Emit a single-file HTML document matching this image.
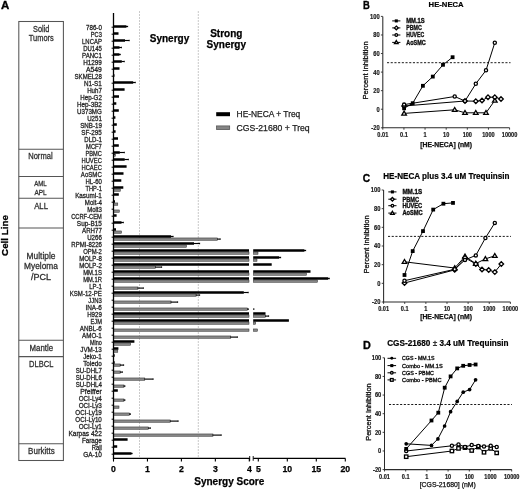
<!DOCTYPE html>
<html><head><meta charset="utf-8"><title>Synergy figure</title>
<style>
html,body{margin:0;padding:0;background:#fff;}
body{width:520px;height:489px;overflow:hidden;}
svg{display:block;font-family:'Liberation Sans', Arial, sans-serif;}
</style></head><body>
<svg width="520" height="489" viewBox="0 0 520 489">
<rect x="0" y="0" width="520" height="489" fill="#fff"/>
<text x="1.05" y="9.10" font-size="11.2" font-weight="bold" fill="#000" stroke="#000" stroke-width="0.35" textLength="8.30" lengthAdjust="spacingAndGlyphs">A</text>
<rect x="18.8" y="21.5" width="44.60" height="439.00" fill="none" stroke="#555" stroke-width="1.05"/>
<line x1="18.8" y1="149.3" x2="63.4" y2="149.3" stroke="#555" stroke-width="1.05"/>
<line x1="18.8" y1="176.4" x2="63.4" y2="176.4" stroke="#555" stroke-width="1.05"/>
<line x1="18.8" y1="198.3" x2="63.4" y2="198.3" stroke="#555" stroke-width="1.05"/>
<line x1="18.8" y1="227.9" x2="63.4" y2="227.9" stroke="#555" stroke-width="1.05"/>
<line x1="18.8" y1="340.3" x2="63.4" y2="340.3" stroke="#555" stroke-width="1.05"/>
<line x1="18.8" y1="356.6" x2="63.4" y2="356.6" stroke="#555" stroke-width="1.05"/>
<line x1="18.8" y1="443.8" x2="63.4" y2="443.8" stroke="#555" stroke-width="1.05"/>
<text x="33.00" y="31.60" font-size="9.200000000000001" fill="#303030" stroke="#303030" stroke-width="0.3" textLength="16.40" lengthAdjust="spacingAndGlyphs">Solid</text>
<text x="28.80" y="41.00" font-size="9.200000000000001" fill="#303030" stroke="#303030" stroke-width="0.3" textLength="24.90" lengthAdjust="spacingAndGlyphs">Tumors</text>
<text x="28.20" y="159.10" font-size="9.0" fill="#303030" stroke="#303030" stroke-width="0.3" textLength="24.40" lengthAdjust="spacingAndGlyphs">Normal</text>
<text x="34.20" y="185.70" font-size="7.8" fill="#303030" stroke="#303030" stroke-width="0.3" textLength="12.50" lengthAdjust="spacingAndGlyphs">AML</text>
<text x="34.50" y="194.50" font-size="7.8" fill="#303030" stroke="#303030" stroke-width="0.3" textLength="12.20" lengthAdjust="spacingAndGlyphs">APL</text>
<text x="34.20" y="208.90" font-size="9.0" fill="#303030" stroke="#303030" stroke-width="0.3" textLength="13.80" lengthAdjust="spacingAndGlyphs">ALL</text>
<text x="26.60" y="258.90" font-size="8.8" fill="#303030" stroke="#303030" stroke-width="0.3" textLength="28.80" lengthAdjust="spacingAndGlyphs">Multiple</text>
<text x="24.10" y="269.40" font-size="8.8" fill="#303030" stroke="#303030" stroke-width="0.3" textLength="33.79" lengthAdjust="spacingAndGlyphs">Myeloma</text>
<text x="31.00" y="279.50" font-size="8.8" fill="#303030" stroke="#303030" stroke-width="0.3" textLength="20.00" lengthAdjust="spacingAndGlyphs">/PCL</text>
<text x="29.60" y="350.70" font-size="8.6" fill="#303030" stroke="#303030" stroke-width="0.3" textLength="23.40" lengthAdjust="spacingAndGlyphs">Mantle</text>
<text x="29.10" y="366.70" font-size="9.100000000000001" fill="#303030" stroke="#303030" stroke-width="0.3" textLength="24.30" lengthAdjust="spacingAndGlyphs">DLBCL</text>
<text x="28.10" y="453.60" font-size="9.100000000000001" fill="#303030" stroke="#303030" stroke-width="0.3" textLength="26.70" lengthAdjust="spacingAndGlyphs">Burkitts</text>
<text x="86.05" y="29.75" font-size="6.9" fill="#222" stroke="#222" stroke-width="0.28" textLength="15.80" lengthAdjust="spacingAndGlyphs">786-0</text>
<text x="90.85" y="36.76" font-size="6.9" fill="#222" stroke="#222" stroke-width="0.28" textLength="11.00" lengthAdjust="spacingAndGlyphs">PC3</text>
<text x="82.05" y="43.76" font-size="6.9" fill="#222" stroke="#222" stroke-width="0.28" textLength="19.80" lengthAdjust="spacingAndGlyphs">LNCAP</text>
<text x="83.15" y="50.77" font-size="6.9" fill="#222" stroke="#222" stroke-width="0.28" textLength="18.70" lengthAdjust="spacingAndGlyphs">DU145</text>
<text x="82.05" y="57.78" font-size="6.9" fill="#222" stroke="#222" stroke-width="0.28" textLength="19.80" lengthAdjust="spacingAndGlyphs">PANC1</text>
<text x="83.15" y="64.78" font-size="6.9" fill="#222" stroke="#222" stroke-width="0.28" textLength="18.70" lengthAdjust="spacingAndGlyphs">H1299</text>
<text x="86.05" y="71.79" font-size="6.9" fill="#222" stroke="#222" stroke-width="0.28" textLength="15.80" lengthAdjust="spacingAndGlyphs">A549</text>
<text x="74.55" y="78.80" font-size="6.9" fill="#222" stroke="#222" stroke-width="0.28" textLength="27.30" lengthAdjust="spacingAndGlyphs">SKMEL28</text>
<text x="83.95" y="85.80" font-size="6.9" fill="#222" stroke="#222" stroke-width="0.28" textLength="17.90" lengthAdjust="spacingAndGlyphs">N1-S1</text>
<text x="87.15" y="92.81" font-size="6.9" fill="#222" stroke="#222" stroke-width="0.28" textLength="14.70" lengthAdjust="spacingAndGlyphs">Huh7</text>
<text x="80.25" y="99.82" font-size="6.9" fill="#222" stroke="#222" stroke-width="0.28" textLength="21.60" lengthAdjust="spacingAndGlyphs">Hep-G2</text>
<text x="77.05" y="106.82" font-size="6.9" fill="#222" stroke="#222" stroke-width="0.28" textLength="24.80" lengthAdjust="spacingAndGlyphs">Hep-3B2</text>
<text x="77.05" y="113.83" font-size="6.9" fill="#222" stroke="#222" stroke-width="0.28" textLength="24.80" lengthAdjust="spacingAndGlyphs">U373MG</text>
<text x="87.15" y="120.84" font-size="6.9" fill="#222" stroke="#222" stroke-width="0.28" textLength="14.70" lengthAdjust="spacingAndGlyphs">U251</text>
<text x="80.25" y="127.84" font-size="6.9" fill="#222" stroke="#222" stroke-width="0.28" textLength="21.60" lengthAdjust="spacingAndGlyphs">SNB-19</text>
<text x="81.25" y="134.85" font-size="6.9" fill="#222" stroke="#222" stroke-width="0.28" textLength="20.60" lengthAdjust="spacingAndGlyphs">SF-295</text>
<text x="84.25" y="141.85" font-size="6.9" fill="#222" stroke="#222" stroke-width="0.28" textLength="17.60" lengthAdjust="spacingAndGlyphs">DLD-1</text>
<text x="86.05" y="148.86" font-size="6.9" fill="#222" stroke="#222" stroke-width="0.28" textLength="15.80" lengthAdjust="spacingAndGlyphs">MCF7</text>
<text x="85.45" y="155.87" font-size="6.9" fill="#222" stroke="#222" stroke-width="0.28" textLength="16.40" lengthAdjust="spacingAndGlyphs">PBMC</text>
<text x="81.45" y="162.87" font-size="6.9" fill="#222" stroke="#222" stroke-width="0.28" textLength="20.40" lengthAdjust="spacingAndGlyphs">HUVEC</text>
<text x="81.45" y="169.88" font-size="6.9" fill="#222" stroke="#222" stroke-width="0.28" textLength="20.40" lengthAdjust="spacingAndGlyphs">HCAEC</text>
<text x="80.85" y="176.89" font-size="6.9" fill="#222" stroke="#222" stroke-width="0.28" textLength="21.00" lengthAdjust="spacingAndGlyphs">AoSMC</text>
<text x="85.45" y="183.89" font-size="6.9" fill="#222" stroke="#222" stroke-width="0.28" textLength="16.40" lengthAdjust="spacingAndGlyphs">HL-60</text>
<text x="85.45" y="190.90" font-size="6.9" fill="#222" stroke="#222" stroke-width="0.28" textLength="16.40" lengthAdjust="spacingAndGlyphs">THP-1</text>
<text x="75.15" y="197.91" font-size="6.9" fill="#222" stroke="#222" stroke-width="0.28" textLength="26.70" lengthAdjust="spacingAndGlyphs">Kasumi-1</text>
<text x="84.85" y="204.91" font-size="6.9" fill="#222" stroke="#222" stroke-width="0.28" textLength="17.00" lengthAdjust="spacingAndGlyphs">Molt-4</text>
<text x="87.15" y="211.92" font-size="6.9" fill="#222" stroke="#222" stroke-width="0.28" textLength="14.70" lengthAdjust="spacingAndGlyphs">Molt3</text>
<text x="71.15" y="218.93" font-size="6.9" fill="#222" stroke="#222" stroke-width="0.28" textLength="30.70" lengthAdjust="spacingAndGlyphs">CCRF-CEM</text>
<text x="76.85" y="225.93" font-size="6.9" fill="#222" stroke="#222" stroke-width="0.28" textLength="25.00" lengthAdjust="spacingAndGlyphs">Sup-B15</text>
<text x="82.05" y="232.94" font-size="6.9" fill="#222" stroke="#222" stroke-width="0.28" textLength="19.80" lengthAdjust="spacingAndGlyphs">ARH77</text>
<text x="87.15" y="239.95" font-size="6.9" fill="#222" stroke="#222" stroke-width="0.28" textLength="14.70" lengthAdjust="spacingAndGlyphs">U266</text>
<text x="71.35" y="246.95" font-size="6.9" fill="#222" stroke="#222" stroke-width="0.28" textLength="30.50" lengthAdjust="spacingAndGlyphs">RPMI-8226</text>
<text x="83.15" y="253.96" font-size="6.9" fill="#222" stroke="#222" stroke-width="0.28" textLength="18.70" lengthAdjust="spacingAndGlyphs">OPM-2</text>
<text x="79.15" y="260.97" font-size="6.9" fill="#222" stroke="#222" stroke-width="0.28" textLength="22.70" lengthAdjust="spacingAndGlyphs">MOLP-8</text>
<text x="79.15" y="267.97" font-size="6.9" fill="#222" stroke="#222" stroke-width="0.28" textLength="22.70" lengthAdjust="spacingAndGlyphs">MOLP-2</text>
<text x="83.15" y="274.98" font-size="6.9" fill="#222" stroke="#222" stroke-width="0.28" textLength="18.70" lengthAdjust="spacingAndGlyphs">MM.1S</text>
<text x="83.15" y="281.99" font-size="6.9" fill="#222" stroke="#222" stroke-width="0.28" textLength="18.70" lengthAdjust="spacingAndGlyphs">MM.1R</text>
<text x="89.25" y="288.99" font-size="6.9" fill="#222" stroke="#222" stroke-width="0.28" textLength="12.60" lengthAdjust="spacingAndGlyphs">LP-1</text>
<text x="69.75" y="296.00" font-size="6.9" fill="#222" stroke="#222" stroke-width="0.28" textLength="32.10" lengthAdjust="spacingAndGlyphs">KSM-12-PE</text>
<text x="88.35" y="303.01" font-size="6.9" fill="#222" stroke="#222" stroke-width="0.28" textLength="13.50" lengthAdjust="spacingAndGlyphs">JJN3</text>
<text x="85.45" y="310.01" font-size="6.9" fill="#222" stroke="#222" stroke-width="0.28" textLength="16.40" lengthAdjust="spacingAndGlyphs">INA-6</text>
<text x="87.15" y="317.02" font-size="6.9" fill="#222" stroke="#222" stroke-width="0.28" textLength="14.70" lengthAdjust="spacingAndGlyphs">H929</text>
<text x="90.55" y="324.03" font-size="6.9" fill="#222" stroke="#222" stroke-width="0.28" textLength="11.30" lengthAdjust="spacingAndGlyphs">EJM</text>
<text x="79.75" y="331.03" font-size="6.9" fill="#222" stroke="#222" stroke-width="0.28" textLength="22.10" lengthAdjust="spacingAndGlyphs">ANBL-6</text>
<text x="82.05" y="338.04" font-size="6.9" fill="#222" stroke="#222" stroke-width="0.28" textLength="19.80" lengthAdjust="spacingAndGlyphs">AMO-1</text>
<text x="90.05" y="345.05" font-size="6.9" fill="#222" stroke="#222" stroke-width="0.28" textLength="11.80" lengthAdjust="spacingAndGlyphs">Mino</text>
<text x="80.25" y="352.05" font-size="6.9" fill="#222" stroke="#222" stroke-width="0.28" textLength="21.60" lengthAdjust="spacingAndGlyphs">JVM-13</text>
<text x="83.15" y="359.06" font-size="6.9" fill="#222" stroke="#222" stroke-width="0.28" textLength="18.70" lengthAdjust="spacingAndGlyphs">Jeko-1</text>
<text x="83.15" y="366.06" font-size="6.9" fill="#222" stroke="#222" stroke-width="0.28" textLength="18.70" lengthAdjust="spacingAndGlyphs">Toledo</text>
<text x="75.75" y="373.07" font-size="6.9" fill="#222" stroke="#222" stroke-width="0.28" textLength="26.10" lengthAdjust="spacingAndGlyphs">SU-DHL7</text>
<text x="75.75" y="380.08" font-size="6.9" fill="#222" stroke="#222" stroke-width="0.28" textLength="26.10" lengthAdjust="spacingAndGlyphs">SU-DHL6</text>
<text x="75.75" y="387.08" font-size="6.9" fill="#222" stroke="#222" stroke-width="0.28" textLength="26.10" lengthAdjust="spacingAndGlyphs">SU-DHL4</text>
<text x="80.25" y="394.09" font-size="6.9" fill="#222" stroke="#222" stroke-width="0.28" textLength="21.60" lengthAdjust="spacingAndGlyphs">Pfeiffer</text>
<text x="78.65" y="401.10" font-size="6.9" fill="#222" stroke="#222" stroke-width="0.28" textLength="23.20" lengthAdjust="spacingAndGlyphs">OCI-Ly4</text>
<text x="78.65" y="408.10" font-size="6.9" fill="#222" stroke="#222" stroke-width="0.28" textLength="23.20" lengthAdjust="spacingAndGlyphs">OCI-Ly3</text>
<text x="75.35" y="415.11" font-size="6.9" fill="#222" stroke="#222" stroke-width="0.28" textLength="26.50" lengthAdjust="spacingAndGlyphs">OCI-Ly19</text>
<text x="75.35" y="422.12" font-size="6.9" fill="#222" stroke="#222" stroke-width="0.28" textLength="26.50" lengthAdjust="spacingAndGlyphs">OCI-Ly10</text>
<text x="78.65" y="429.12" font-size="6.9" fill="#222" stroke="#222" stroke-width="0.28" textLength="23.20" lengthAdjust="spacingAndGlyphs">OCI-Ly1</text>
<text x="68.45" y="436.13" font-size="6.9" fill="#222" stroke="#222" stroke-width="0.28" textLength="33.40" lengthAdjust="spacingAndGlyphs">Karpas 422</text>
<text x="81.95" y="443.14" font-size="6.9" fill="#222" stroke="#222" stroke-width="0.28" textLength="19.90" lengthAdjust="spacingAndGlyphs">Farage</text>
<text x="91.75" y="450.14" font-size="6.9" fill="#222" stroke="#222" stroke-width="0.28" textLength="10.10" lengthAdjust="spacingAndGlyphs">Raji</text>
<text x="83.25" y="457.15" font-size="6.9" fill="#222" stroke="#222" stroke-width="0.28" textLength="18.60" lengthAdjust="spacingAndGlyphs">GA-10</text>
<line x1="139.5" y1="11.5" x2="139.5" y2="457" stroke="#8a8a8a" stroke-width="0.9" stroke-dasharray="1,2"/>
<line x1="198.3" y1="11.5" x2="198.3" y2="457" stroke="#8a8a8a" stroke-width="0.9" stroke-dasharray="1,2"/>
<rect x="113.50" y="25.25" width="13.00" height="2.50" fill="#000"/>
<line x1="126.00" y1="26.50" x2="128.00" y2="26.50" stroke="#000" stroke-width="1.15"/>
<line x1="127.70" y1="25.70" x2="127.70" y2="27.30" stroke="#000" stroke-width="0.6"/>
<rect x="113.50" y="32.25" width="5.00" height="2.50" fill="#000"/>
<rect x="113.50" y="39.25" width="11.50" height="2.50" fill="#000"/>
<line x1="124.50" y1="40.50" x2="129.50" y2="40.50" stroke="#000" stroke-width="1.15"/>
<line x1="129.20" y1="39.70" x2="129.20" y2="41.30" stroke="#000" stroke-width="0.6"/>
<rect x="113.50" y="46.25" width="6.00" height="2.50" fill="#000"/>
<line x1="119.00" y1="47.50" x2="121.80" y2="47.50" stroke="#000" stroke-width="1.15"/>
<line x1="121.50" y1="46.70" x2="121.50" y2="48.30" stroke="#000" stroke-width="0.6"/>
<rect x="113.50" y="53.25" width="6.00" height="2.50" fill="#000"/>
<line x1="119.00" y1="54.50" x2="120.60" y2="54.50" stroke="#000" stroke-width="1.15"/>
<line x1="120.30" y1="53.70" x2="120.30" y2="55.30" stroke="#000" stroke-width="0.6"/>
<rect x="113.50" y="60.25" width="8.30" height="2.50" fill="#000"/>
<line x1="121.30" y1="61.50" x2="124.60" y2="61.50" stroke="#000" stroke-width="1.15"/>
<line x1="124.30" y1="60.70" x2="124.30" y2="62.30" stroke="#000" stroke-width="0.6"/>
<rect x="113.50" y="67.25" width="6.00" height="2.50" fill="#000"/>
<rect x="113.50" y="74.25" width="1.00" height="2.50" fill="#000"/>
<rect x="113.50" y="81.25" width="19.70" height="2.50" fill="#000"/>
<line x1="132.70" y1="82.50" x2="135.60" y2="82.50" stroke="#000" stroke-width="1.15"/>
<line x1="135.30" y1="81.70" x2="135.30" y2="83.30" stroke="#000" stroke-width="0.6"/>
<rect x="113.50" y="88.25" width="11.10" height="2.50" fill="#000"/>
<rect x="113.50" y="95.25" width="5.50" height="2.50" fill="#000"/>
<rect x="113.50" y="102.25" width="2.80" height="2.50" fill="#000"/>
<rect x="113.50" y="109.25" width="5.30" height="2.50" fill="#000"/>
<rect x="113.50" y="116.25" width="1.90" height="2.50" fill="#000"/>
<rect x="113.50" y="123.25" width="3.30" height="2.50" fill="#000"/>
<rect x="113.50" y="130.25" width="2.10" height="2.50" fill="#000"/>
<rect x="113.50" y="137.25" width="4.50" height="2.50" fill="#000"/>
<rect x="113.50" y="144.25" width="5.30" height="2.50" fill="#000"/>
<rect x="113.75" y="153.95" width="1.75" height="2.30" fill="#878787" stroke="#2a2a2a" stroke-width="0.5"/>
<rect x="113.50" y="151.25" width="6.30" height="2.50" fill="#000"/>
<line x1="119.30" y1="152.50" x2="124.70" y2="152.50" stroke="#000" stroke-width="1.15"/>
<line x1="124.40" y1="151.70" x2="124.40" y2="153.30" stroke="#000" stroke-width="0.6"/>
<rect x="113.50" y="158.25" width="11.20" height="2.50" fill="#000"/>
<line x1="124.20" y1="159.50" x2="128.70" y2="159.50" stroke="#000" stroke-width="1.15"/>
<line x1="128.40" y1="158.70" x2="128.40" y2="160.30" stroke="#000" stroke-width="0.6"/>
<rect x="113.50" y="165.25" width="13.10" height="2.50" fill="#000"/>
<rect x="113.50" y="172.25" width="10.00" height="2.50" fill="#000"/>
<rect x="113.50" y="179.25" width="7.80" height="2.50" fill="#000"/>
<rect x="113.75" y="188.95" width="6.55" height="2.30" fill="#878787" stroke="#2a2a2a" stroke-width="0.5"/>
<rect x="113.50" y="186.25" width="9.80" height="2.50" fill="#000"/>
<rect x="113.50" y="193.25" width="5.30" height="2.50" fill="#000"/>
<rect x="113.75" y="202.95" width="4.05" height="2.30" fill="#878787" stroke="#2a2a2a" stroke-width="0.5"/>
<rect x="113.50" y="200.25" width="1.50" height="2.50" fill="#000"/>
<rect x="113.75" y="209.95" width="5.55" height="2.30" fill="#878787" stroke="#2a2a2a" stroke-width="0.5"/>
<rect x="113.50" y="214.25" width="3.10" height="2.50" fill="#000"/>
<rect x="113.50" y="221.25" width="8.00" height="2.50" fill="#000"/>
<line x1="121.00" y1="222.50" x2="123.70" y2="222.50" stroke="#000" stroke-width="1.15"/>
<line x1="123.40" y1="221.70" x2="123.40" y2="223.30" stroke="#000" stroke-width="0.6"/>
<rect x="113.75" y="230.95" width="7.75" height="2.30" fill="#878787" stroke="#2a2a2a" stroke-width="0.5"/>
<rect x="113.50" y="228.25" width="2.50" height="2.50" fill="#000"/>
<rect x="113.75" y="237.95" width="103.95" height="2.30" fill="#878787" stroke="#2a2a2a" stroke-width="0.5"/>
<line x1="217.20" y1="239.10" x2="220.50" y2="239.10" stroke="#000" stroke-width="1.15"/>
<line x1="220.20" y1="238.30" x2="220.20" y2="239.90" stroke="#000" stroke-width="0.6"/>
<rect x="113.50" y="235.25" width="57.60" height="2.50" fill="#000"/>
<line x1="170.60" y1="236.50" x2="173.40" y2="236.50" stroke="#000" stroke-width="1.15"/>
<line x1="173.10" y1="235.70" x2="173.10" y2="237.30" stroke="#000" stroke-width="0.6"/>
<rect x="113.75" y="244.95" width="72.75" height="2.30" fill="#878787" stroke="#2a2a2a" stroke-width="0.5"/>
<rect x="113.50" y="242.25" width="80.50" height="2.50" fill="#000"/>
<line x1="193.50" y1="243.50" x2="200.00" y2="243.50" stroke="#000" stroke-width="1.15"/>
<line x1="199.70" y1="242.70" x2="199.70" y2="244.30" stroke="#000" stroke-width="0.6"/>
<rect x="113.75" y="251.95" width="135.25" height="2.30" fill="#878787" stroke="#2a2a2a" stroke-width="0.5"/>
<rect x="253.45" y="251.95" width="4.55" height="2.30" fill="#878787" stroke="#2a2a2a" stroke-width="0.5"/>
<rect x="113.50" y="249.25" width="135.50" height="2.50" fill="#000"/>
<rect x="253.20" y="249.25" width="51.30" height="2.50" fill="#000"/>
<line x1="304.00" y1="250.50" x2="306.00" y2="250.50" stroke="#000" stroke-width="1.15"/>
<line x1="305.70" y1="249.70" x2="305.70" y2="251.30" stroke="#000" stroke-width="0.6"/>
<rect x="113.75" y="258.95" width="135.25" height="2.30" fill="#878787" stroke="#2a2a2a" stroke-width="0.5"/>
<rect x="253.45" y="258.95" width="3.55" height="2.30" fill="#878787" stroke="#2a2a2a" stroke-width="0.5"/>
<rect x="113.50" y="256.25" width="135.50" height="2.50" fill="#000"/>
<rect x="253.20" y="256.25" width="26.00" height="2.50" fill="#000"/>
<line x1="278.70" y1="257.50" x2="281.00" y2="257.50" stroke="#000" stroke-width="1.15"/>
<line x1="280.70" y1="256.70" x2="280.70" y2="258.30" stroke="#000" stroke-width="0.6"/>
<rect x="113.75" y="265.95" width="41.85" height="2.30" fill="#878787" stroke="#2a2a2a" stroke-width="0.5"/>
<line x1="155.10" y1="267.10" x2="162.00" y2="267.10" stroke="#000" stroke-width="1.15"/>
<line x1="161.70" y1="266.30" x2="161.70" y2="267.90" stroke="#000" stroke-width="0.6"/>
<rect x="113.50" y="263.25" width="135.50" height="2.50" fill="#000"/>
<rect x="253.20" y="263.25" width="18.50" height="2.50" fill="#000"/>
<rect x="113.75" y="272.95" width="135.25" height="2.30" fill="#878787" stroke="#2a2a2a" stroke-width="0.5"/>
<rect x="253.45" y="272.95" width="53.05" height="2.30" fill="#878787" stroke="#2a2a2a" stroke-width="0.5"/>
<rect x="113.50" y="270.25" width="135.50" height="2.50" fill="#000"/>
<rect x="253.20" y="270.25" width="57.30" height="2.50" fill="#000"/>
<rect x="113.75" y="279.95" width="135.25" height="2.30" fill="#878787" stroke="#2a2a2a" stroke-width="0.5"/>
<rect x="253.45" y="279.95" width="64.05" height="2.30" fill="#878787" stroke="#2a2a2a" stroke-width="0.5"/>
<rect x="113.50" y="277.25" width="135.50" height="2.50" fill="#000"/>
<rect x="253.20" y="277.25" width="75.00" height="2.50" fill="#000"/>
<line x1="327.70" y1="278.50" x2="329.60" y2="278.50" stroke="#000" stroke-width="1.15"/>
<line x1="329.30" y1="277.70" x2="329.30" y2="279.30" stroke="#000" stroke-width="0.6"/>
<rect x="113.75" y="286.95" width="24.25" height="2.30" fill="#878787" stroke="#2a2a2a" stroke-width="0.5"/>
<line x1="137.50" y1="288.10" x2="143.70" y2="288.10" stroke="#000" stroke-width="1.15"/>
<line x1="143.40" y1="287.30" x2="143.40" y2="288.90" stroke="#000" stroke-width="0.6"/>
<rect x="113.75" y="293.95" width="82.45" height="2.30" fill="#878787" stroke="#2a2a2a" stroke-width="0.5"/>
<line x1="195.70" y1="295.10" x2="200.00" y2="295.10" stroke="#000" stroke-width="1.15"/>
<line x1="199.70" y1="294.30" x2="199.70" y2="295.90" stroke="#000" stroke-width="0.6"/>
<rect x="113.50" y="291.25" width="130.30" height="2.50" fill="#000"/>
<line x1="243.30" y1="292.50" x2="248.50" y2="292.50" stroke="#000" stroke-width="1.15"/>
<line x1="248.20" y1="291.70" x2="248.20" y2="293.30" stroke="#000" stroke-width="0.6"/>
<rect x="113.75" y="300.95" width="57.35" height="2.30" fill="#878787" stroke="#2a2a2a" stroke-width="0.5"/>
<line x1="170.60" y1="302.10" x2="178.00" y2="302.10" stroke="#000" stroke-width="1.15"/>
<line x1="177.70" y1="301.30" x2="177.70" y2="302.90" stroke="#000" stroke-width="0.6"/>
<rect x="113.75" y="307.95" width="133.95" height="2.30" fill="#878787" stroke="#2a2a2a" stroke-width="0.5"/>
<line x1="247.20" y1="309.10" x2="249.00" y2="309.10" stroke="#000" stroke-width="1.15"/>
<line x1="253.20" y1="309.10" x2="254.20" y2="309.10" stroke="#000" stroke-width="1.15"/>
<line x1="253.90" y1="308.30" x2="253.90" y2="309.90" stroke="#000" stroke-width="0.6"/>
<rect x="113.75" y="314.95" width="135.25" height="2.30" fill="#878787" stroke="#2a2a2a" stroke-width="0.5"/>
<rect x="253.45" y="314.95" width="12.05" height="2.30" fill="#878787" stroke="#2a2a2a" stroke-width="0.5"/>
<line x1="265.00" y1="316.10" x2="269.00" y2="316.10" stroke="#000" stroke-width="1.15"/>
<line x1="268.70" y1="315.30" x2="268.70" y2="316.90" stroke="#000" stroke-width="0.6"/>
<rect x="113.50" y="312.25" width="135.50" height="2.50" fill="#000"/>
<rect x="253.20" y="312.25" width="12.30" height="2.50" fill="#000"/>
<rect x="113.75" y="321.95" width="135.25" height="2.30" fill="#878787" stroke="#2a2a2a" stroke-width="0.5"/>
<rect x="253.45" y="321.95" width="2.25" height="2.30" fill="#878787" stroke="#2a2a2a" stroke-width="0.5"/>
<rect x="113.50" y="319.25" width="135.50" height="2.50" fill="#000"/>
<rect x="253.20" y="319.25" width="35.70" height="2.50" fill="#000"/>
<rect x="113.75" y="328.95" width="135.25" height="2.30" fill="#878787" stroke="#2a2a2a" stroke-width="0.5"/>
<rect x="253.45" y="328.95" width="4.05" height="2.30" fill="#878787" stroke="#2a2a2a" stroke-width="0.5"/>
<rect x="113.75" y="335.95" width="117.05" height="2.30" fill="#878787" stroke="#2a2a2a" stroke-width="0.5"/>
<line x1="230.30" y1="337.10" x2="237.70" y2="337.10" stroke="#000" stroke-width="1.15"/>
<line x1="237.40" y1="336.30" x2="237.40" y2="337.90" stroke="#000" stroke-width="0.6"/>
<rect x="113.75" y="342.95" width="16.95" height="2.30" fill="#878787" stroke="#2a2a2a" stroke-width="0.5"/>
<rect x="113.50" y="340.25" width="20.90" height="2.50" fill="#000"/>
<rect x="113.75" y="349.95" width="4.05" height="2.30" fill="#878787" stroke="#2a2a2a" stroke-width="0.5"/>
<rect x="113.50" y="347.25" width="4.90" height="2.50" fill="#000"/>
<rect x="113.50" y="354.25" width="1.20" height="2.50" fill="#000"/>
<rect x="113.75" y="363.95" width="6.55" height="2.30" fill="#878787" stroke="#2a2a2a" stroke-width="0.5"/>
<line x1="119.80" y1="365.10" x2="124.00" y2="365.10" stroke="#000" stroke-width="1.15"/>
<line x1="123.70" y1="364.30" x2="123.70" y2="365.90" stroke="#000" stroke-width="0.6"/>
<rect x="113.50" y="361.25" width="1.20" height="2.50" fill="#000"/>
<rect x="113.75" y="370.95" width="6.55" height="2.30" fill="#878787" stroke="#2a2a2a" stroke-width="0.5"/>
<line x1="119.80" y1="372.10" x2="122.70" y2="372.10" stroke="#000" stroke-width="1.15"/>
<line x1="122.40" y1="371.30" x2="122.40" y2="372.90" stroke="#000" stroke-width="0.6"/>
<rect x="113.75" y="377.95" width="31.05" height="2.30" fill="#878787" stroke="#2a2a2a" stroke-width="0.5"/>
<line x1="144.30" y1="379.10" x2="153.40" y2="379.10" stroke="#000" stroke-width="1.15"/>
<line x1="153.10" y1="378.30" x2="153.10" y2="379.90" stroke="#000" stroke-width="0.6"/>
<rect x="113.75" y="384.95" width="10.25" height="2.30" fill="#878787" stroke="#2a2a2a" stroke-width="0.5"/>
<line x1="123.50" y1="386.10" x2="125.20" y2="386.10" stroke="#000" stroke-width="1.15"/>
<line x1="124.90" y1="385.30" x2="124.90" y2="386.90" stroke="#000" stroke-width="0.6"/>
<rect x="113.50" y="389.25" width="4.30" height="2.50" fill="#000"/>
<rect x="113.75" y="398.95" width="10.25" height="2.30" fill="#878787" stroke="#2a2a2a" stroke-width="0.5"/>
<line x1="123.50" y1="400.10" x2="125.20" y2="400.10" stroke="#000" stroke-width="1.15"/>
<line x1="124.90" y1="399.30" x2="124.90" y2="400.90" stroke="#000" stroke-width="0.6"/>
<rect x="113.75" y="405.95" width="5.25" height="2.30" fill="#878787" stroke="#2a2a2a" stroke-width="0.5"/>
<rect x="113.75" y="412.95" width="15.95" height="2.30" fill="#878787" stroke="#2a2a2a" stroke-width="0.5"/>
<line x1="129.20" y1="414.10" x2="130.70" y2="414.10" stroke="#000" stroke-width="1.15"/>
<line x1="130.40" y1="413.30" x2="130.40" y2="414.90" stroke="#000" stroke-width="0.6"/>
<rect x="113.75" y="419.95" width="56.55" height="2.30" fill="#878787" stroke="#2a2a2a" stroke-width="0.5"/>
<line x1="169.80" y1="421.10" x2="178.40" y2="421.10" stroke="#000" stroke-width="1.15"/>
<line x1="178.10" y1="420.30" x2="178.10" y2="421.90" stroke="#000" stroke-width="0.6"/>
<rect x="113.75" y="426.95" width="34.65" height="2.30" fill="#878787" stroke="#2a2a2a" stroke-width="0.5"/>
<line x1="147.90" y1="428.10" x2="150.70" y2="428.10" stroke="#000" stroke-width="1.15"/>
<line x1="150.40" y1="427.30" x2="150.40" y2="428.90" stroke="#000" stroke-width="0.6"/>
<rect x="113.75" y="433.95" width="99.25" height="2.30" fill="#878787" stroke="#2a2a2a" stroke-width="0.5"/>
<line x1="212.50" y1="435.10" x2="221.50" y2="435.10" stroke="#000" stroke-width="1.15"/>
<line x1="221.20" y1="434.30" x2="221.20" y2="435.90" stroke="#000" stroke-width="0.6"/>
<rect x="113.50" y="438.25" width="14.10" height="2.50" fill="#000"/>
<rect x="113.50" y="445.25" width="3.70" height="2.50" fill="#000"/>
<rect x="113.50" y="452.25" width="18.00" height="2.50" fill="#000"/>
<line x1="131.00" y1="453.50" x2="132.40" y2="453.50" stroke="#000" stroke-width="1.15"/>
<line x1="132.10" y1="452.70" x2="132.10" y2="454.30" stroke="#000" stroke-width="0.6"/>
<line x1="113.5" y1="13" x2="113.5" y2="459.0" stroke="#000" stroke-width="1.3"/>
<line x1="111.6" y1="27.20" x2="113.5" y2="27.20" stroke="#000" stroke-width="1"/>
<line x1="111.6" y1="34.20" x2="113.5" y2="34.20" stroke="#000" stroke-width="1"/>
<line x1="111.6" y1="41.20" x2="113.5" y2="41.20" stroke="#000" stroke-width="1"/>
<line x1="111.6" y1="48.20" x2="113.5" y2="48.20" stroke="#000" stroke-width="1"/>
<line x1="111.6" y1="55.20" x2="113.5" y2="55.20" stroke="#000" stroke-width="1"/>
<line x1="111.6" y1="62.20" x2="113.5" y2="62.20" stroke="#000" stroke-width="1"/>
<line x1="111.6" y1="69.20" x2="113.5" y2="69.20" stroke="#000" stroke-width="1"/>
<line x1="111.6" y1="76.20" x2="113.5" y2="76.20" stroke="#000" stroke-width="1"/>
<line x1="111.6" y1="83.20" x2="113.5" y2="83.20" stroke="#000" stroke-width="1"/>
<line x1="111.6" y1="90.20" x2="113.5" y2="90.20" stroke="#000" stroke-width="1"/>
<line x1="111.6" y1="97.20" x2="113.5" y2="97.20" stroke="#000" stroke-width="1"/>
<line x1="111.6" y1="104.20" x2="113.5" y2="104.20" stroke="#000" stroke-width="1"/>
<line x1="111.6" y1="111.20" x2="113.5" y2="111.20" stroke="#000" stroke-width="1"/>
<line x1="111.6" y1="118.20" x2="113.5" y2="118.20" stroke="#000" stroke-width="1"/>
<line x1="111.6" y1="125.20" x2="113.5" y2="125.20" stroke="#000" stroke-width="1"/>
<line x1="111.6" y1="132.20" x2="113.5" y2="132.20" stroke="#000" stroke-width="1"/>
<line x1="111.6" y1="139.20" x2="113.5" y2="139.20" stroke="#000" stroke-width="1"/>
<line x1="111.6" y1="146.20" x2="113.5" y2="146.20" stroke="#000" stroke-width="1"/>
<line x1="111.6" y1="153.20" x2="113.5" y2="153.20" stroke="#000" stroke-width="1"/>
<line x1="111.6" y1="160.20" x2="113.5" y2="160.20" stroke="#000" stroke-width="1"/>
<line x1="111.6" y1="167.20" x2="113.5" y2="167.20" stroke="#000" stroke-width="1"/>
<line x1="111.6" y1="174.20" x2="113.5" y2="174.20" stroke="#000" stroke-width="1"/>
<line x1="111.6" y1="181.20" x2="113.5" y2="181.20" stroke="#000" stroke-width="1"/>
<line x1="111.6" y1="188.20" x2="113.5" y2="188.20" stroke="#000" stroke-width="1"/>
<line x1="111.6" y1="195.20" x2="113.5" y2="195.20" stroke="#000" stroke-width="1"/>
<line x1="111.6" y1="202.20" x2="113.5" y2="202.20" stroke="#000" stroke-width="1"/>
<line x1="111.6" y1="209.20" x2="113.5" y2="209.20" stroke="#000" stroke-width="1"/>
<line x1="111.6" y1="216.20" x2="113.5" y2="216.20" stroke="#000" stroke-width="1"/>
<line x1="111.6" y1="223.20" x2="113.5" y2="223.20" stroke="#000" stroke-width="1"/>
<line x1="111.6" y1="230.20" x2="113.5" y2="230.20" stroke="#000" stroke-width="1"/>
<line x1="111.6" y1="237.20" x2="113.5" y2="237.20" stroke="#000" stroke-width="1"/>
<line x1="111.6" y1="244.20" x2="113.5" y2="244.20" stroke="#000" stroke-width="1"/>
<line x1="111.6" y1="251.20" x2="113.5" y2="251.20" stroke="#000" stroke-width="1"/>
<line x1="111.6" y1="258.20" x2="113.5" y2="258.20" stroke="#000" stroke-width="1"/>
<line x1="111.6" y1="265.20" x2="113.5" y2="265.20" stroke="#000" stroke-width="1"/>
<line x1="111.6" y1="272.20" x2="113.5" y2="272.20" stroke="#000" stroke-width="1"/>
<line x1="111.6" y1="279.20" x2="113.5" y2="279.20" stroke="#000" stroke-width="1"/>
<line x1="111.6" y1="286.20" x2="113.5" y2="286.20" stroke="#000" stroke-width="1"/>
<line x1="111.6" y1="293.20" x2="113.5" y2="293.20" stroke="#000" stroke-width="1"/>
<line x1="111.6" y1="300.20" x2="113.5" y2="300.20" stroke="#000" stroke-width="1"/>
<line x1="111.6" y1="307.20" x2="113.5" y2="307.20" stroke="#000" stroke-width="1"/>
<line x1="111.6" y1="314.20" x2="113.5" y2="314.20" stroke="#000" stroke-width="1"/>
<line x1="111.6" y1="321.20" x2="113.5" y2="321.20" stroke="#000" stroke-width="1"/>
<line x1="111.6" y1="328.20" x2="113.5" y2="328.20" stroke="#000" stroke-width="1"/>
<line x1="111.6" y1="335.20" x2="113.5" y2="335.20" stroke="#000" stroke-width="1"/>
<line x1="111.6" y1="342.20" x2="113.5" y2="342.20" stroke="#000" stroke-width="1"/>
<line x1="111.6" y1="349.20" x2="113.5" y2="349.20" stroke="#000" stroke-width="1"/>
<line x1="111.6" y1="356.20" x2="113.5" y2="356.20" stroke="#000" stroke-width="1"/>
<line x1="111.6" y1="363.20" x2="113.5" y2="363.20" stroke="#000" stroke-width="1"/>
<line x1="111.6" y1="370.20" x2="113.5" y2="370.20" stroke="#000" stroke-width="1"/>
<line x1="111.6" y1="377.20" x2="113.5" y2="377.20" stroke="#000" stroke-width="1"/>
<line x1="111.6" y1="384.20" x2="113.5" y2="384.20" stroke="#000" stroke-width="1"/>
<line x1="111.6" y1="391.20" x2="113.5" y2="391.20" stroke="#000" stroke-width="1"/>
<line x1="111.6" y1="398.20" x2="113.5" y2="398.20" stroke="#000" stroke-width="1"/>
<line x1="111.6" y1="405.20" x2="113.5" y2="405.20" stroke="#000" stroke-width="1"/>
<line x1="111.6" y1="412.20" x2="113.5" y2="412.20" stroke="#000" stroke-width="1"/>
<line x1="111.6" y1="419.20" x2="113.5" y2="419.20" stroke="#000" stroke-width="1"/>
<line x1="111.6" y1="426.20" x2="113.5" y2="426.20" stroke="#000" stroke-width="1"/>
<line x1="111.6" y1="433.20" x2="113.5" y2="433.20" stroke="#000" stroke-width="1"/>
<line x1="111.6" y1="440.20" x2="113.5" y2="440.20" stroke="#000" stroke-width="1"/>
<line x1="111.6" y1="447.20" x2="113.5" y2="447.20" stroke="#000" stroke-width="1"/>
<line x1="111.6" y1="454.20" x2="113.5" y2="454.20" stroke="#000" stroke-width="1"/>
<line x1="112.9" y1="458.4" x2="249.8" y2="458.4" stroke="#000" stroke-width="1.2"/>
<line x1="253.2" y1="458.4" x2="345.5" y2="458.4" stroke="#000" stroke-width="1.2"/>
<line x1="249.70000000000002" y1="456.0" x2="249.70000000000002" y2="460.79999999999995" stroke="#000" stroke-width="0.9"/>
<line x1="253.2" y1="456.0" x2="253.2" y2="460.79999999999995" stroke="#000" stroke-width="0.9"/>
<line x1="113.50" y1="458.4" x2="113.50" y2="461.59999999999997" stroke="#000" stroke-width="1.1"/>
<text x="113.50" y="471.60" font-size="8.7" text-anchor="middle" font-weight="bold" fill="#000" stroke="#000" stroke-width="0.25">0</text>
<line x1="147.45" y1="458.4" x2="147.45" y2="461.59999999999997" stroke="#000" stroke-width="1.1"/>
<text x="147.45" y="471.60" font-size="8.7" text-anchor="middle" font-weight="bold" fill="#000" stroke="#000" stroke-width="0.25">1</text>
<line x1="181.40" y1="458.4" x2="181.40" y2="461.59999999999997" stroke="#000" stroke-width="1.1"/>
<text x="181.40" y="471.60" font-size="8.7" text-anchor="middle" font-weight="bold" fill="#000" stroke="#000" stroke-width="0.25">2</text>
<line x1="215.35" y1="458.4" x2="215.35" y2="461.59999999999997" stroke="#000" stroke-width="1.1"/>
<text x="215.35" y="471.60" font-size="8.7" text-anchor="middle" font-weight="bold" fill="#000" stroke="#000" stroke-width="0.25">3</text>
<line x1="249.30" y1="458.4" x2="249.30" y2="461.59999999999997" stroke="#000" stroke-width="1.1"/>
<text x="249.30" y="471.60" font-size="8.7" text-anchor="middle" font-weight="bold" fill="#000" stroke="#000" stroke-width="0.25">4</text>
<line x1="258.30" y1="458.4" x2="258.30" y2="461.59999999999997" stroke="#000" stroke-width="1.1"/>
<text x="258.30" y="471.60" font-size="8.7" text-anchor="middle" font-weight="bold" fill="#000" stroke="#000" stroke-width="0.25">5</text>
<line x1="287.30" y1="458.4" x2="287.30" y2="461.59999999999997" stroke="#000" stroke-width="1.1"/>
<text x="287.30" y="471.60" font-size="8.7" text-anchor="middle" font-weight="bold" fill="#000" stroke="#000" stroke-width="0.25">10</text>
<line x1="316.30" y1="458.4" x2="316.30" y2="461.59999999999997" stroke="#000" stroke-width="1.1"/>
<text x="316.30" y="471.60" font-size="8.7" text-anchor="middle" font-weight="bold" fill="#000" stroke="#000" stroke-width="0.25">15</text>
<line x1="345.30" y1="458.4" x2="345.30" y2="461.59999999999997" stroke="#000" stroke-width="1.1"/>
<text x="345.30" y="471.60" font-size="8.7" text-anchor="middle" font-weight="bold" fill="#000" stroke="#000" stroke-width="0.25">20</text>
<text x="229.30" y="485.00" font-size="10" text-anchor="middle" font-weight="bold" fill="#000" stroke="#000" stroke-width="0.25">Synergy Score</text>
<text x="169.50" y="42.30" font-size="10" text-anchor="middle" font-weight="bold" fill="#000" stroke="#000" stroke-width="0.25">Synergy</text>
<text x="226.30" y="37.40" font-size="10" text-anchor="middle" font-weight="bold" fill="#000" stroke="#000" stroke-width="0.25">Strong</text>
<text x="226.30" y="48.10" font-size="10" text-anchor="middle" font-weight="bold" fill="#000" stroke="#000" stroke-width="0.25">Synergy</text>
<rect x="216.2" y="112.2" width="13.8" height="4.0" fill="#000"/>
<rect x="216.4" y="125.9" width="13.4" height="3.8" fill="#858585" stroke="#2a2a2a" stroke-width="0.5"/>
<text x="236.60" y="117.10" font-size="8.5" fill="#222" stroke="#222" stroke-width="0.25" textLength="63.70" lengthAdjust="spacingAndGlyphs">HE-NECA + Treq</text>
<text x="236.60" y="131.00" font-size="8.6" fill="#222" stroke="#222" stroke-width="0.25" textLength="73.10" lengthAdjust="spacingAndGlyphs">CGS-21680 + Treq</text>
<text x="362.95" y="9.00" font-size="11.2" font-weight="bold" fill="#000" stroke="#000" stroke-width="0.35" textLength="6.80" lengthAdjust="spacingAndGlyphs">B</text>
<text x="428.60" y="6.50" font-size="8.1" font-weight="bold" fill="#000" stroke="#000" stroke-width="0.2" textLength="35.05" lengthAdjust="spacingAndGlyphs">HE-NECA</text>
<line x1="382.8" y1="16.4" x2="382.8" y2="127.8" stroke="#2a2a2a" stroke-width="1.05"/>
<line x1="382.3" y1="127.8" x2="509.6" y2="127.8" stroke="#2a2a2a" stroke-width="1.05"/>
<line x1="380.90000000000003" y1="16.40" x2="382.8" y2="16.40" stroke="#2a2a2a" stroke-width="0.9"/>
<text x="369.99" y="18.80" font-size="6.7" font-weight="bold" fill="#1a1a1a" stroke="#1a1a1a" stroke-width="0.2" textLength="9.61" lengthAdjust="spacingAndGlyphs">100</text>
<line x1="380.90000000000003" y1="34.97" x2="382.8" y2="34.97" stroke="#2a2a2a" stroke-width="0.9"/>
<text x="373.19" y="37.37" font-size="6.7" font-weight="bold" fill="#1a1a1a" stroke="#1a1a1a" stroke-width="0.2" textLength="6.41" lengthAdjust="spacingAndGlyphs">80</text>
<line x1="380.90000000000003" y1="53.53" x2="382.8" y2="53.53" stroke="#2a2a2a" stroke-width="0.9"/>
<text x="373.19" y="55.93" font-size="6.7" font-weight="bold" fill="#1a1a1a" stroke="#1a1a1a" stroke-width="0.2" textLength="6.41" lengthAdjust="spacingAndGlyphs">60</text>
<line x1="380.90000000000003" y1="72.10" x2="382.8" y2="72.10" stroke="#2a2a2a" stroke-width="0.9"/>
<text x="373.19" y="74.50" font-size="6.7" font-weight="bold" fill="#1a1a1a" stroke="#1a1a1a" stroke-width="0.2" textLength="6.41" lengthAdjust="spacingAndGlyphs">40</text>
<line x1="380.90000000000003" y1="90.67" x2="382.8" y2="90.67" stroke="#2a2a2a" stroke-width="0.9"/>
<text x="373.19" y="93.07" font-size="6.7" font-weight="bold" fill="#1a1a1a" stroke="#1a1a1a" stroke-width="0.2" textLength="6.41" lengthAdjust="spacingAndGlyphs">20</text>
<line x1="380.90000000000003" y1="109.23" x2="382.8" y2="109.23" stroke="#2a2a2a" stroke-width="0.9"/>
<text x="376.40" y="111.63" font-size="6.7" font-weight="bold" fill="#1a1a1a" stroke="#1a1a1a" stroke-width="0.2" textLength="3.20" lengthAdjust="spacingAndGlyphs">0</text>
<line x1="380.90000000000003" y1="127.80" x2="382.8" y2="127.80" stroke="#2a2a2a" stroke-width="0.9"/>
<text x="371.27" y="130.20" font-size="6.7" font-weight="bold" fill="#1a1a1a" stroke="#1a1a1a" stroke-width="0.2" textLength="8.33" lengthAdjust="spacingAndGlyphs">-20</text>
<line x1="382.80" y1="127.8" x2="382.80" y2="129.7" stroke="#2a2a2a" stroke-width="0.9"/>
<text x="377.36" y="136.80" font-size="6.5" font-weight="bold" fill="#1a1a1a" stroke="#1a1a1a" stroke-width="0.2" textLength="10.88" lengthAdjust="spacingAndGlyphs">0.01</text>
<line x1="403.93" y1="127.8" x2="403.93" y2="129.7" stroke="#2a2a2a" stroke-width="0.9"/>
<text x="400.04" y="136.80" font-size="6.5" font-weight="bold" fill="#1a1a1a" stroke="#1a1a1a" stroke-width="0.2" textLength="7.77" lengthAdjust="spacingAndGlyphs">0.1</text>
<line x1="425.06" y1="127.8" x2="425.06" y2="129.7" stroke="#2a2a2a" stroke-width="0.9"/>
<text x="423.51" y="136.80" font-size="6.5" font-weight="bold" fill="#1a1a1a" stroke="#1a1a1a" stroke-width="0.2" textLength="3.11" lengthAdjust="spacingAndGlyphs">1</text>
<line x1="446.19" y1="127.8" x2="446.19" y2="129.7" stroke="#2a2a2a" stroke-width="0.9"/>
<text x="443.08" y="136.80" font-size="6.5" font-weight="bold" fill="#1a1a1a" stroke="#1a1a1a" stroke-width="0.2" textLength="6.22" lengthAdjust="spacingAndGlyphs">10</text>
<line x1="467.32" y1="127.8" x2="467.32" y2="129.7" stroke="#2a2a2a" stroke-width="0.9"/>
<text x="462.66" y="136.80" font-size="6.5" font-weight="bold" fill="#1a1a1a" stroke="#1a1a1a" stroke-width="0.2" textLength="9.33" lengthAdjust="spacingAndGlyphs">100</text>
<line x1="488.45" y1="127.8" x2="488.45" y2="129.7" stroke="#2a2a2a" stroke-width="0.9"/>
<text x="482.23" y="136.80" font-size="6.5" font-weight="bold" fill="#1a1a1a" stroke="#1a1a1a" stroke-width="0.2" textLength="12.44" lengthAdjust="spacingAndGlyphs">1000</text>
<line x1="509.58" y1="127.8" x2="509.58" y2="129.7" stroke="#2a2a2a" stroke-width="0.9"/>
<text x="501.81" y="136.80" font-size="6.5" font-weight="bold" fill="#1a1a1a" stroke="#1a1a1a" stroke-width="0.2" textLength="15.54" lengthAdjust="spacingAndGlyphs">10000</text>
<text x="420.30" y="146.60" font-size="6.8" font-weight="bold" fill="#111" stroke="#111" stroke-width="0.25" textLength="51.70" lengthAdjust="spacingAndGlyphs">[HE-NECA] (nM)</text>
<text x="-29.05" y="0.00" font-size="7.6" fill="#111" stroke="#111" stroke-width="0.3" textLength="58.10" lengthAdjust="spacingAndGlyphs" transform="translate(368.40,70.35) rotate(-90)">Percent Inhibition</text>
<line x1="387" y1="62.7" x2="510.5" y2="62.7" stroke="#000" stroke-width="0.9" stroke-dasharray="2.1,1.6"/>
<line x1="392.2" y1="20.9" x2="400.4" y2="20.9" stroke="#000" stroke-width="1"/>
<rect x="394.78" y="19.38" width="3.04" height="3.04" fill="#000"/>
<text x="406.20" y="23.24" font-size="6.5" font-weight="bold" fill="#111" stroke="#111" stroke-width="0.35" textLength="18.50" lengthAdjust="spacingAndGlyphs">MM.1S</text>
<line x1="392.2" y1="27.9" x2="400.4" y2="27.9" stroke="#000" stroke-width="1"/>
<polygon points="396.30,26.06 398.14,27.90 396.30,29.74 394.46,27.90" fill="#fff" stroke="#000" stroke-width="1.3"/>
<text x="406.20" y="30.24" font-size="6.5" font-weight="bold" fill="#111" stroke="#111" stroke-width="0.35" textLength="15.60" lengthAdjust="spacingAndGlyphs">PBMC</text>
<line x1="392.2" y1="35.0" x2="400.4" y2="35.0" stroke="#000" stroke-width="1"/>
<circle cx="396.30" cy="35.00" r="1.28" fill="#fff" stroke="#000" stroke-width="1.3"/>
<text x="406.20" y="37.34" font-size="6.5" font-weight="bold" fill="#111" stroke="#111" stroke-width="0.35" textLength="18.00" lengthAdjust="spacingAndGlyphs">HUVEC</text>
<line x1="392.2" y1="42.4" x2="400.4" y2="42.4" stroke="#000" stroke-width="1"/>
<polygon points="396.30,40.56 398.14,43.72 394.46,43.72" fill="#fff" stroke="#000" stroke-width="1.3"/>
<text x="406.20" y="44.74" font-size="6.5" font-weight="bold" fill="#111" stroke="#111" stroke-width="0.35" textLength="19.50" lengthAdjust="spacingAndGlyphs">AoSMC</text>
<polyline points="404.10,113.40 454.70,109.80 465.00,112.80 475.80,112.80 486.00,112.80 494.80,100.50" fill="none" stroke="#000" stroke-width="1.0"/>
<polygon points="404.10,111.10 406.40,115.06 401.80,115.06" fill="#fff" stroke="#000" stroke-width="1.3"/>
<polygon points="454.70,107.50 457.00,111.46 452.40,111.46" fill="#fff" stroke="#000" stroke-width="1.3"/>
<polygon points="465.00,110.50 467.30,114.46 462.70,114.46" fill="#fff" stroke="#000" stroke-width="1.3"/>
<polygon points="475.80,110.50 478.10,114.46 473.50,114.46" fill="#fff" stroke="#000" stroke-width="1.3"/>
<polygon points="486.00,110.50 488.30,114.46 483.70,114.46" fill="#fff" stroke="#000" stroke-width="1.3"/>
<polygon points="494.80,98.20 497.10,102.16 492.50,102.16" fill="#fff" stroke="#000" stroke-width="1.3"/>
<polyline points="404.10,106.00 465.00,101.00 475.80,101.20 482.00,100.50 488.00,97.20 494.80,97.20 501.00,99.00" fill="none" stroke="#000" stroke-width="1.0"/>
<polygon points="404.10,103.70 406.40,106.00 404.10,108.30 401.80,106.00" fill="#fff" stroke="#000" stroke-width="1.3"/>
<polygon points="465.00,98.70 467.30,101.00 465.00,103.30 462.70,101.00" fill="#fff" stroke="#000" stroke-width="1.3"/>
<polygon points="475.80,98.90 478.10,101.20 475.80,103.50 473.50,101.20" fill="#fff" stroke="#000" stroke-width="1.3"/>
<polygon points="482.00,98.20 484.30,100.50 482.00,102.80 479.70,100.50" fill="#fff" stroke="#000" stroke-width="1.3"/>
<polygon points="488.00,94.90 490.30,97.20 488.00,99.50 485.70,97.20" fill="#fff" stroke="#000" stroke-width="1.3"/>
<polygon points="494.80,94.90 497.10,97.20 494.80,99.50 492.50,97.20" fill="#fff" stroke="#000" stroke-width="1.3"/>
<polygon points="501.00,96.70 503.30,99.00 501.00,101.30 498.70,99.00" fill="#fff" stroke="#000" stroke-width="1.3"/>
<polyline points="404.10,104.60 454.70,96.50 465.00,101.00 475.80,83.80 486.00,70.30 494.80,42.70" fill="none" stroke="#000" stroke-width="1.0"/>
<circle cx="404.10" cy="104.60" r="1.60" fill="#fff" stroke="#000" stroke-width="1.3"/>
<circle cx="454.70" cy="96.50" r="1.60" fill="#fff" stroke="#000" stroke-width="1.3"/>
<circle cx="465.00" cy="101.00" r="1.60" fill="#fff" stroke="#000" stroke-width="1.3"/>
<circle cx="475.80" cy="83.80" r="1.60" fill="#fff" stroke="#000" stroke-width="1.3"/>
<circle cx="486.00" cy="70.30" r="1.60" fill="#fff" stroke="#000" stroke-width="1.3"/>
<circle cx="494.80" cy="42.70" r="1.60" fill="#fff" stroke="#000" stroke-width="1.3"/>
<polyline points="404.10,108.30 412.70,103.20 422.90,85.80 432.80,76.60 443.00,64.80 452.60,57.20" fill="none" stroke="#000" stroke-width="1.0"/>
<rect x="402.20" y="106.40" width="3.80" height="3.80" fill="#000"/>
<rect x="410.80" y="101.30" width="3.80" height="3.80" fill="#000"/>
<rect x="421.00" y="83.90" width="3.80" height="3.80" fill="#000"/>
<rect x="430.90" y="74.70" width="3.80" height="3.80" fill="#000"/>
<rect x="441.10" y="62.90" width="3.80" height="3.80" fill="#000"/>
<rect x="450.70" y="55.30" width="3.80" height="3.80" fill="#000"/>
<text x="362.75" y="182.30" font-size="11.2" font-weight="bold" fill="#000" stroke="#000" stroke-width="0.35" textLength="7.40" lengthAdjust="spacingAndGlyphs">C</text>
<text x="383.20" y="179.30" font-size="8.200000000000001" font-weight="bold" fill="#000" stroke="#000" stroke-width="0.2" textLength="126.20" lengthAdjust="spacingAndGlyphs">HE-NECA plus 3.4 uM Trequinsin</text>
<line x1="383.6" y1="190.0" x2="383.6" y2="302.0" stroke="#2a2a2a" stroke-width="1.05"/>
<line x1="383.1" y1="302.0" x2="510.4" y2="302.0" stroke="#2a2a2a" stroke-width="1.05"/>
<line x1="381.70000000000005" y1="190.00" x2="383.6" y2="190.00" stroke="#2a2a2a" stroke-width="0.9"/>
<text x="370.79" y="192.40" font-size="6.7" font-weight="bold" fill="#1a1a1a" stroke="#1a1a1a" stroke-width="0.2" textLength="9.61" lengthAdjust="spacingAndGlyphs">100</text>
<line x1="381.70000000000005" y1="208.67" x2="383.6" y2="208.67" stroke="#2a2a2a" stroke-width="0.9"/>
<text x="373.99" y="211.07" font-size="6.7" font-weight="bold" fill="#1a1a1a" stroke="#1a1a1a" stroke-width="0.2" textLength="6.41" lengthAdjust="spacingAndGlyphs">80</text>
<line x1="381.70000000000005" y1="227.33" x2="383.6" y2="227.33" stroke="#2a2a2a" stroke-width="0.9"/>
<text x="373.99" y="229.73" font-size="6.7" font-weight="bold" fill="#1a1a1a" stroke="#1a1a1a" stroke-width="0.2" textLength="6.41" lengthAdjust="spacingAndGlyphs">60</text>
<line x1="381.70000000000005" y1="246.00" x2="383.6" y2="246.00" stroke="#2a2a2a" stroke-width="0.9"/>
<text x="373.99" y="248.40" font-size="6.7" font-weight="bold" fill="#1a1a1a" stroke="#1a1a1a" stroke-width="0.2" textLength="6.41" lengthAdjust="spacingAndGlyphs">40</text>
<line x1="381.70000000000005" y1="264.67" x2="383.6" y2="264.67" stroke="#2a2a2a" stroke-width="0.9"/>
<text x="373.99" y="267.07" font-size="6.7" font-weight="bold" fill="#1a1a1a" stroke="#1a1a1a" stroke-width="0.2" textLength="6.41" lengthAdjust="spacingAndGlyphs">20</text>
<line x1="381.70000000000005" y1="283.33" x2="383.6" y2="283.33" stroke="#2a2a2a" stroke-width="0.9"/>
<text x="377.20" y="285.73" font-size="6.7" font-weight="bold" fill="#1a1a1a" stroke="#1a1a1a" stroke-width="0.2" textLength="3.20" lengthAdjust="spacingAndGlyphs">0</text>
<line x1="381.70000000000005" y1="302.00" x2="383.6" y2="302.00" stroke="#2a2a2a" stroke-width="0.9"/>
<text x="372.07" y="304.40" font-size="6.7" font-weight="bold" fill="#1a1a1a" stroke="#1a1a1a" stroke-width="0.2" textLength="8.33" lengthAdjust="spacingAndGlyphs">-20</text>
<line x1="383.60" y1="302.0" x2="383.60" y2="303.9" stroke="#2a2a2a" stroke-width="0.9"/>
<text x="378.16" y="310.80" font-size="6.5" font-weight="bold" fill="#1a1a1a" stroke="#1a1a1a" stroke-width="0.2" textLength="10.88" lengthAdjust="spacingAndGlyphs">0.01</text>
<line x1="404.73" y1="302.0" x2="404.73" y2="303.9" stroke="#2a2a2a" stroke-width="0.9"/>
<text x="400.84" y="310.80" font-size="6.5" font-weight="bold" fill="#1a1a1a" stroke="#1a1a1a" stroke-width="0.2" textLength="7.77" lengthAdjust="spacingAndGlyphs">0.1</text>
<line x1="425.86" y1="302.0" x2="425.86" y2="303.9" stroke="#2a2a2a" stroke-width="0.9"/>
<text x="424.31" y="310.80" font-size="6.5" font-weight="bold" fill="#1a1a1a" stroke="#1a1a1a" stroke-width="0.2" textLength="3.11" lengthAdjust="spacingAndGlyphs">1</text>
<line x1="446.99" y1="302.0" x2="446.99" y2="303.9" stroke="#2a2a2a" stroke-width="0.9"/>
<text x="443.88" y="310.80" font-size="6.5" font-weight="bold" fill="#1a1a1a" stroke="#1a1a1a" stroke-width="0.2" textLength="6.22" lengthAdjust="spacingAndGlyphs">10</text>
<line x1="468.12" y1="302.0" x2="468.12" y2="303.9" stroke="#2a2a2a" stroke-width="0.9"/>
<text x="463.46" y="310.80" font-size="6.5" font-weight="bold" fill="#1a1a1a" stroke="#1a1a1a" stroke-width="0.2" textLength="9.33" lengthAdjust="spacingAndGlyphs">100</text>
<line x1="489.25" y1="302.0" x2="489.25" y2="303.9" stroke="#2a2a2a" stroke-width="0.9"/>
<text x="483.03" y="310.80" font-size="6.5" font-weight="bold" fill="#1a1a1a" stroke="#1a1a1a" stroke-width="0.2" textLength="12.44" lengthAdjust="spacingAndGlyphs">1000</text>
<line x1="510.38" y1="302.0" x2="510.38" y2="303.9" stroke="#2a2a2a" stroke-width="0.9"/>
<text x="502.61" y="310.80" font-size="6.5" font-weight="bold" fill="#1a1a1a" stroke="#1a1a1a" stroke-width="0.2" textLength="15.54" lengthAdjust="spacingAndGlyphs">10000</text>
<text x="420.20" y="319.20" font-size="6.8" font-weight="bold" fill="#111" stroke="#111" stroke-width="0.25" textLength="51.80" lengthAdjust="spacingAndGlyphs">[HE-NECA] (nM)</text>
<text x="-29.15" y="0.00" font-size="7.6" fill="#111" stroke="#111" stroke-width="0.3" textLength="58.30" lengthAdjust="spacingAndGlyphs" transform="translate(368.60,244.45) rotate(-90)">Percent Inhibition</text>
<line x1="388" y1="236.4" x2="511" y2="236.4" stroke="#000" stroke-width="0.9" stroke-dasharray="2.1,1.6"/>
<line x1="388.3" y1="191.9" x2="396.5" y2="191.9" stroke="#000" stroke-width="1"/>
<rect x="390.88" y="190.38" width="3.04" height="3.04" fill="#000"/>
<text x="402.40" y="194.24" font-size="6.5" font-weight="bold" fill="#111" stroke="#111" stroke-width="0.35" textLength="19.80" lengthAdjust="spacingAndGlyphs">MM.1S</text>
<line x1="388.3" y1="199.2" x2="396.5" y2="199.2" stroke="#000" stroke-width="1"/>
<polygon points="392.40,197.36 394.24,199.20 392.40,201.04 390.56,199.20" fill="#fff" stroke="#000" stroke-width="1.3"/>
<text x="402.40" y="201.54" font-size="6.5" font-weight="bold" fill="#111" stroke="#111" stroke-width="0.35" textLength="16.70" lengthAdjust="spacingAndGlyphs">PBMC</text>
<line x1="388.3" y1="205.7" x2="396.5" y2="205.7" stroke="#000" stroke-width="1"/>
<circle cx="392.40" cy="205.70" r="1.28" fill="#fff" stroke="#000" stroke-width="1.3"/>
<text x="402.40" y="208.04" font-size="6.5" font-weight="bold" fill="#111" stroke="#111" stroke-width="0.35" textLength="19.80" lengthAdjust="spacingAndGlyphs">HUVEC</text>
<line x1="388.3" y1="213.1" x2="396.5" y2="213.1" stroke="#000" stroke-width="1"/>
<polygon points="392.40,211.26 394.24,214.42 390.56,214.42" fill="#fff" stroke="#000" stroke-width="1.3"/>
<text x="402.40" y="215.44" font-size="6.5" font-weight="bold" fill="#111" stroke="#111" stroke-width="0.35" textLength="20.30" lengthAdjust="spacingAndGlyphs">AoSMC</text>
<polyline points="404.50,261.80 454.70,268.00 465.00,256.40 475.80,263.60 485.40,258.90 494.80,255.80" fill="none" stroke="#000" stroke-width="1.0"/>
<polygon points="404.50,259.50 406.80,263.46 402.20,263.46" fill="#fff" stroke="#000" stroke-width="1.3"/>
<polygon points="454.70,265.70 457.00,269.66 452.40,269.66" fill="#fff" stroke="#000" stroke-width="1.3"/>
<polygon points="465.00,254.10 467.30,258.06 462.70,258.06" fill="#fff" stroke="#000" stroke-width="1.3"/>
<polygon points="475.80,261.30 478.10,265.26 473.50,265.26" fill="#fff" stroke="#000" stroke-width="1.3"/>
<polygon points="485.40,256.60 487.70,260.56 483.10,260.56" fill="#fff" stroke="#000" stroke-width="1.3"/>
<polygon points="494.80,253.50 497.10,257.46 492.50,257.46" fill="#fff" stroke="#000" stroke-width="1.3"/>
<polyline points="404.50,283.00 454.70,269.90 465.00,257.80 475.80,264.00 482.00,269.50 488.70,270.00 494.80,272.10 501.30,264.00" fill="none" stroke="#000" stroke-width="1.0"/>
<polygon points="404.50,280.70 406.80,283.00 404.50,285.30 402.20,283.00" fill="#fff" stroke="#000" stroke-width="1.3"/>
<polygon points="454.70,267.60 457.00,269.90 454.70,272.20 452.40,269.90" fill="#fff" stroke="#000" stroke-width="1.3"/>
<polygon points="465.00,255.50 467.30,257.80 465.00,260.10 462.70,257.80" fill="#fff" stroke="#000" stroke-width="1.3"/>
<polygon points="475.80,261.70 478.10,264.00 475.80,266.30 473.50,264.00" fill="#fff" stroke="#000" stroke-width="1.3"/>
<polygon points="482.00,267.20 484.30,269.50 482.00,271.80 479.70,269.50" fill="#fff" stroke="#000" stroke-width="1.3"/>
<polygon points="488.70,267.70 491.00,270.00 488.70,272.30 486.40,270.00" fill="#fff" stroke="#000" stroke-width="1.3"/>
<polygon points="494.80,269.80 497.10,272.10 494.80,274.40 492.50,272.10" fill="#fff" stroke="#000" stroke-width="1.3"/>
<polygon points="501.30,261.70 503.60,264.00 501.30,266.30 499.00,264.00" fill="#fff" stroke="#000" stroke-width="1.3"/>
<polyline points="404.50,280.70 454.70,269.30 465.00,259.90 475.80,255.40 485.40,238.00 494.80,222.90" fill="none" stroke="#000" stroke-width="1.0"/>
<circle cx="404.50" cy="280.70" r="1.60" fill="#fff" stroke="#000" stroke-width="1.3"/>
<circle cx="454.70" cy="269.30" r="1.60" fill="#fff" stroke="#000" stroke-width="1.3"/>
<circle cx="465.00" cy="259.90" r="1.60" fill="#fff" stroke="#000" stroke-width="1.3"/>
<circle cx="475.80" cy="255.40" r="1.60" fill="#fff" stroke="#000" stroke-width="1.3"/>
<circle cx="485.40" cy="238.00" r="1.60" fill="#fff" stroke="#000" stroke-width="1.3"/>
<circle cx="494.80" cy="222.90" r="1.60" fill="#fff" stroke="#000" stroke-width="1.3"/>
<polyline points="404.50,275.00 412.70,251.10 423.00,231.10 433.20,209.60 443.40,203.70 453.00,202.90" fill="none" stroke="#000" stroke-width="1.0"/>
<rect x="402.60" y="273.10" width="3.80" height="3.80" fill="#000"/>
<rect x="410.80" y="249.20" width="3.80" height="3.80" fill="#000"/>
<rect x="421.10" y="229.20" width="3.80" height="3.80" fill="#000"/>
<rect x="431.30" y="207.70" width="3.80" height="3.80" fill="#000"/>
<rect x="441.50" y="201.80" width="3.80" height="3.80" fill="#000"/>
<rect x="451.10" y="201.00" width="3.80" height="3.80" fill="#000"/>
<text x="362.95" y="349.40" font-size="11.2" font-weight="bold" fill="#000" stroke="#000" stroke-width="0.35" textLength="7.80" lengthAdjust="spacingAndGlyphs">D</text>
<text x="387.20" y="346.40" font-size="8.200000000000001" font-weight="bold" fill="#000" stroke="#000" stroke-width="0.2" textLength="121.30" lengthAdjust="spacingAndGlyphs">CGS-21680 <tspan font-weight="normal">±</tspan> 3.4 uM Trequinsin</text>
<line x1="384.5" y1="357.8" x2="384.5" y2="469.6" stroke="#2a2a2a" stroke-width="1.05"/>
<line x1="384.0" y1="469.6" x2="511.8" y2="469.6" stroke="#2a2a2a" stroke-width="1.05"/>
<line x1="382.6" y1="357.80" x2="384.5" y2="357.80" stroke="#2a2a2a" stroke-width="0.9"/>
<text x="371.69" y="360.20" font-size="6.7" font-weight="bold" fill="#1a1a1a" stroke="#1a1a1a" stroke-width="0.2" textLength="9.61" lengthAdjust="spacingAndGlyphs">100</text>
<line x1="382.6" y1="376.43" x2="384.5" y2="376.43" stroke="#2a2a2a" stroke-width="0.9"/>
<text x="374.89" y="378.83" font-size="6.7" font-weight="bold" fill="#1a1a1a" stroke="#1a1a1a" stroke-width="0.2" textLength="6.41" lengthAdjust="spacingAndGlyphs">80</text>
<line x1="382.6" y1="395.07" x2="384.5" y2="395.07" stroke="#2a2a2a" stroke-width="0.9"/>
<text x="374.89" y="397.47" font-size="6.7" font-weight="bold" fill="#1a1a1a" stroke="#1a1a1a" stroke-width="0.2" textLength="6.41" lengthAdjust="spacingAndGlyphs">60</text>
<line x1="382.6" y1="413.70" x2="384.5" y2="413.70" stroke="#2a2a2a" stroke-width="0.9"/>
<text x="374.89" y="416.10" font-size="6.7" font-weight="bold" fill="#1a1a1a" stroke="#1a1a1a" stroke-width="0.2" textLength="6.41" lengthAdjust="spacingAndGlyphs">40</text>
<line x1="382.6" y1="432.33" x2="384.5" y2="432.33" stroke="#2a2a2a" stroke-width="0.9"/>
<text x="374.89" y="434.73" font-size="6.7" font-weight="bold" fill="#1a1a1a" stroke="#1a1a1a" stroke-width="0.2" textLength="6.41" lengthAdjust="spacingAndGlyphs">20</text>
<line x1="382.6" y1="450.97" x2="384.5" y2="450.97" stroke="#2a2a2a" stroke-width="0.9"/>
<text x="378.10" y="453.37" font-size="6.7" font-weight="bold" fill="#1a1a1a" stroke="#1a1a1a" stroke-width="0.2" textLength="3.20" lengthAdjust="spacingAndGlyphs">0</text>
<line x1="382.6" y1="469.60" x2="384.5" y2="469.60" stroke="#2a2a2a" stroke-width="0.9"/>
<text x="372.97" y="472.00" font-size="6.7" font-weight="bold" fill="#1a1a1a" stroke="#1a1a1a" stroke-width="0.2" textLength="8.33" lengthAdjust="spacingAndGlyphs">-20</text>
<line x1="384.50" y1="469.6" x2="384.50" y2="471.5" stroke="#2a2a2a" stroke-width="0.9"/>
<text x="379.06" y="479.40" font-size="6.5" font-weight="bold" fill="#1a1a1a" stroke="#1a1a1a" stroke-width="0.2" textLength="10.88" lengthAdjust="spacingAndGlyphs">0.01</text>
<line x1="405.70" y1="469.6" x2="405.70" y2="471.5" stroke="#2a2a2a" stroke-width="0.9"/>
<text x="401.81" y="479.40" font-size="6.5" font-weight="bold" fill="#1a1a1a" stroke="#1a1a1a" stroke-width="0.2" textLength="7.77" lengthAdjust="spacingAndGlyphs">0.1</text>
<line x1="426.90" y1="469.6" x2="426.90" y2="471.5" stroke="#2a2a2a" stroke-width="0.9"/>
<text x="425.35" y="479.40" font-size="6.5" font-weight="bold" fill="#1a1a1a" stroke="#1a1a1a" stroke-width="0.2" textLength="3.11" lengthAdjust="spacingAndGlyphs">1</text>
<line x1="448.10" y1="469.6" x2="448.10" y2="471.5" stroke="#2a2a2a" stroke-width="0.9"/>
<text x="444.99" y="479.40" font-size="6.5" font-weight="bold" fill="#1a1a1a" stroke="#1a1a1a" stroke-width="0.2" textLength="6.22" lengthAdjust="spacingAndGlyphs">10</text>
<line x1="469.30" y1="469.6" x2="469.30" y2="471.5" stroke="#2a2a2a" stroke-width="0.9"/>
<text x="464.64" y="479.40" font-size="6.5" font-weight="bold" fill="#1a1a1a" stroke="#1a1a1a" stroke-width="0.2" textLength="9.33" lengthAdjust="spacingAndGlyphs">100</text>
<line x1="490.50" y1="469.6" x2="490.50" y2="471.5" stroke="#2a2a2a" stroke-width="0.9"/>
<text x="484.28" y="479.40" font-size="6.5" font-weight="bold" fill="#1a1a1a" stroke="#1a1a1a" stroke-width="0.2" textLength="12.44" lengthAdjust="spacingAndGlyphs">1000</text>
<line x1="511.70" y1="469.6" x2="511.70" y2="471.5" stroke="#2a2a2a" stroke-width="0.9"/>
<text x="503.93" y="479.40" font-size="6.5" font-weight="bold" fill="#1a1a1a" stroke="#1a1a1a" stroke-width="0.2" textLength="15.54" lengthAdjust="spacingAndGlyphs">10000</text>
<text x="419.70" y="487.00" font-size="6.8" fill="#111" stroke="#111" stroke-width="0.25" textLength="56.10" lengthAdjust="spacingAndGlyphs">[CGS-21680] (nM)</text>
<text x="-28.75" y="0.00" font-size="7.6" fill="#111" stroke="#111" stroke-width="0.3" textLength="57.50" lengthAdjust="spacingAndGlyphs" transform="translate(370.80,412.05) rotate(-90)">Percent Inhibition</text>
<line x1="389" y1="404.5" x2="512" y2="404.5" stroke="#000" stroke-width="0.9" stroke-dasharray="2.1,1.6"/>
<line x1="387.5" y1="358.3" x2="396.1" y2="358.3" stroke="#000" stroke-width="1"/>
<circle cx="391.80" cy="358.30" r="1.48" fill="#000"/>
<text x="402.10" y="360.39" font-size="5.8" fill="#111" stroke="#111" stroke-width="0.35" textLength="32.40" lengthAdjust="spacingAndGlyphs">CGS - MM.1S</text>
<line x1="387.5" y1="365.6" x2="396.1" y2="365.6" stroke="#000" stroke-width="1"/>
<rect x="390.28" y="364.08" width="3.04" height="3.04" fill="#000"/>
<text x="402.10" y="367.69" font-size="5.8" fill="#111" stroke="#111" stroke-width="0.35" textLength="40.50" lengthAdjust="spacingAndGlyphs">Combo - MM.1S</text>
<line x1="387.5" y1="372.8" x2="396.1" y2="372.8" stroke="#000" stroke-width="1"/>
<circle cx="391.80" cy="372.80" r="1.28" fill="#fff" stroke="#000" stroke-width="1.3"/>
<text x="402.10" y="374.89" font-size="5.8" fill="#111" stroke="#111" stroke-width="0.35" textLength="31.90" lengthAdjust="spacingAndGlyphs">CGS - PBMC</text>
<line x1="387.5" y1="379.9" x2="396.1" y2="379.9" stroke="#000" stroke-width="1"/>
<rect x="390.44" y="378.54" width="2.72" height="2.72" fill="#fff" stroke="#000" stroke-width="1.3"/>
<text x="402.10" y="381.99" font-size="5.8" fill="#111" stroke="#111" stroke-width="0.35" textLength="39.40" lengthAdjust="spacingAndGlyphs">Combo - PBMC</text>
<polyline points="406.20,456.70 451.90,451.00 458.50,448.40 465.00,447.60 471.70,450.50 478.30,447.00 484.00,452.30 490.70,448.40 496.70,452.90" fill="none" stroke="#000" stroke-width="1.0"/>
<rect x="404.50" y="455.00" width="3.40" height="3.40" fill="#fff" stroke="#000" stroke-width="1.3"/>
<rect x="450.20" y="449.30" width="3.40" height="3.40" fill="#fff" stroke="#000" stroke-width="1.3"/>
<rect x="456.80" y="446.70" width="3.40" height="3.40" fill="#fff" stroke="#000" stroke-width="1.3"/>
<rect x="463.30" y="445.90" width="3.40" height="3.40" fill="#fff" stroke="#000" stroke-width="1.3"/>
<rect x="470.00" y="448.80" width="3.40" height="3.40" fill="#fff" stroke="#000" stroke-width="1.3"/>
<rect x="476.60" y="445.30" width="3.40" height="3.40" fill="#fff" stroke="#000" stroke-width="1.3"/>
<rect x="482.30" y="450.60" width="3.40" height="3.40" fill="#fff" stroke="#000" stroke-width="1.3"/>
<rect x="489.00" y="446.70" width="3.40" height="3.40" fill="#fff" stroke="#000" stroke-width="1.3"/>
<rect x="495.00" y="451.20" width="3.40" height="3.40" fill="#fff" stroke="#000" stroke-width="1.3"/>
<polyline points="406.20,451.00 451.90,445.80 458.50,444.40 465.00,447.00 471.70,445.00 478.30,446.00 484.00,446.50 490.70,445.80 496.70,447.00" fill="none" stroke="#000" stroke-width="1.0"/>
<circle cx="406.20" cy="451.00" r="1.60" fill="#fff" stroke="#000" stroke-width="1.3"/>
<circle cx="451.90" cy="445.80" r="1.60" fill="#fff" stroke="#000" stroke-width="1.3"/>
<circle cx="458.50" cy="444.40" r="1.60" fill="#fff" stroke="#000" stroke-width="1.3"/>
<circle cx="465.00" cy="447.00" r="1.60" fill="#fff" stroke="#000" stroke-width="1.3"/>
<circle cx="471.70" cy="445.00" r="1.60" fill="#fff" stroke="#000" stroke-width="1.3"/>
<circle cx="478.30" cy="446.00" r="1.60" fill="#fff" stroke="#000" stroke-width="1.3"/>
<circle cx="484.00" cy="446.50" r="1.60" fill="#fff" stroke="#000" stroke-width="1.3"/>
<circle cx="490.70" cy="445.80" r="1.60" fill="#fff" stroke="#000" stroke-width="1.3"/>
<circle cx="496.70" cy="447.00" r="1.60" fill="#fff" stroke="#000" stroke-width="1.3"/>
<polyline points="406.20,443.80 431.50,445.40 437.90,438.90 444.60,426.00 450.60,411.70 457.20,401.40 463.20,392.20 469.60,389.60 475.60,379.80" fill="none" stroke="#000" stroke-width="1.0"/>
<circle cx="406.20" cy="443.80" r="1.85" fill="#000"/>
<circle cx="431.50" cy="445.40" r="1.85" fill="#000"/>
<circle cx="437.90" cy="438.90" r="1.85" fill="#000"/>
<circle cx="444.60" cy="426.00" r="1.85" fill="#000"/>
<circle cx="450.60" cy="411.70" r="1.85" fill="#000"/>
<circle cx="457.20" cy="401.40" r="1.85" fill="#000"/>
<circle cx="463.20" cy="392.20" r="1.85" fill="#000"/>
<circle cx="469.60" cy="389.60" r="1.85" fill="#000"/>
<circle cx="475.60" cy="379.80" r="1.85" fill="#000"/>
<polyline points="406.20,448.90 431.50,420.50 438.30,412.70 444.70,387.70 450.60,376.40 457.20,368.40 463.20,365.80 469.60,365.00 475.60,364.50" fill="none" stroke="#000" stroke-width="1.0"/>
<rect x="404.30" y="447.00" width="3.80" height="3.80" fill="#000"/>
<rect x="429.60" y="418.60" width="3.80" height="3.80" fill="#000"/>
<rect x="436.40" y="410.80" width="3.80" height="3.80" fill="#000"/>
<rect x="442.80" y="385.80" width="3.80" height="3.80" fill="#000"/>
<rect x="448.70" y="374.50" width="3.80" height="3.80" fill="#000"/>
<rect x="455.30" y="366.50" width="3.80" height="3.80" fill="#000"/>
<rect x="461.30" y="363.90" width="3.80" height="3.80" fill="#000"/>
<rect x="467.70" y="363.10" width="3.80" height="3.80" fill="#000"/>
<rect x="473.70" y="362.60" width="3.80" height="3.80" fill="#000"/>
<text x="-20.40" y="0.00" font-size="9.8" font-weight="bold" fill="#000" stroke="#000" stroke-width="0.3" textLength="40.80" lengthAdjust="spacingAndGlyphs" transform="translate(7.70,235.50) rotate(-90)">Cell Line</text>
</svg>
</body></html>
